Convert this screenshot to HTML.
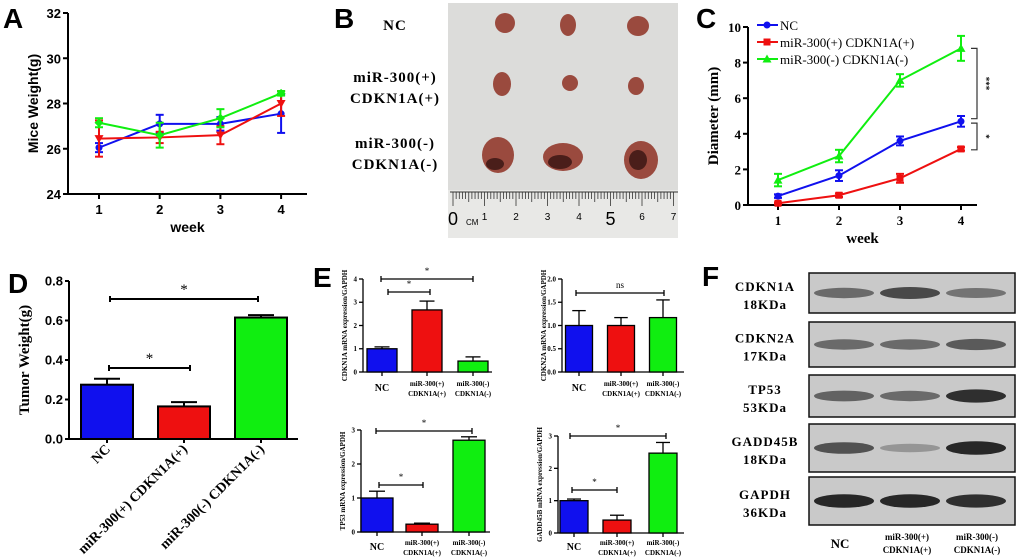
<!DOCTYPE html>
<html><head><meta charset="utf-8"><style>
body{margin:0;background:#fff}
svg{display:block}
text{font-family:"Liberation Serif",serif;font-weight:bold}
.sans{font-family:"Liberation Sans",sans-serif}
</style></head><body>
<svg id="fig" width="1020" height="559" viewBox="0 0 1020 559">
<g class="sans">
<text class="sans" x="3" y="28" font-size="28">A</text>
<text class="sans" x="334" y="28" font-size="28">B</text>
<text class="sans" x="696" y="28" font-size="28">C</text>
<text class="sans" x="8" y="293" font-size="28">D</text>
<text class="sans" x="313" y="287" font-size="28">E</text>
<text class="sans" x="702" y="286" font-size="28">F</text>
</g>
<!-- Panel B photo -->
<g>
<rect x="448" y="3" width="230" height="235" fill="#dcdcda"/>
<rect x="448" y="190" width="230" height="48" fill="#e8e8e6"/>
<g id="ruler"></g>
<text x="395" y="30" font-size="15" text-anchor="middle" letter-spacing="1">NC</text>
<text x="395" y="82" font-size="15" text-anchor="middle" letter-spacing="1">miR-300(+)</text>
<text x="395" y="103" font-size="15" text-anchor="middle" letter-spacing="1">CDKN1A(+)</text>
<text x="395" y="148" font-size="15" text-anchor="middle" letter-spacing="1">miR-300(-)</text>
<text x="395" y="169" font-size="15" text-anchor="middle" letter-spacing="1">CDKN1A(-)</text>
<g fill="#9a4a3e">
<ellipse cx="505" cy="23" rx="10" ry="10"/><ellipse cx="568" cy="25" rx="8" ry="11"/><ellipse cx="638" cy="26" rx="11" ry="10"/>
<ellipse cx="502" cy="84" rx="9" ry="12"/><ellipse cx="570" cy="83" rx="8" ry="8"/><ellipse cx="636" cy="86" rx="8" ry="9"/>
<ellipse cx="498" cy="155" rx="16" ry="18" /><ellipse cx="563" cy="157" rx="20" ry="14"/><ellipse cx="641" cy="160" rx="17" ry="19"/>
</g>
<g fill="#4a1e1a"><ellipse cx="560" cy="162" rx="12" ry="7"/><ellipse cx="638" cy="160" rx="9" ry="10"/><ellipse cx="495" cy="164" rx="9" ry="6"/></g>
</g>
<!-- Panel F blots -->
<g id="blots"></g>
<g id="charts"></g>
</svg>
<script>
// ===== Panel A data =====
const weekLabels = ["1","2","3","4"];
const weightNC = [26.05, 27.1, 27.1, 27.55];
const weightNCErr = [0.2, 0.4, 0.3, 0.85];
const weightPos = [26.45, 26.5, 26.6, 28.0];
const weightPosErr = [0.8, 0.25, 0.4, 0.55];
const weightNeg = [27.15, 26.6, 27.35, 28.45];
const weightNegErr = [0.2, 0.55, 0.4, 0.1];
const weightTicks = [24, 26, 28, 30, 32];
// ===== Panel C data =====
const diamNC = [0.5, 1.65, 3.6, 4.7];
const diamNCErr = [0.1, 0.3, 0.25, 0.3];
const diamPos = [0.1, 0.55, 1.5, 3.15];
const diamPosErr = [0.05, 0.1, 0.25, 0.1];
const diamNeg = [1.4, 2.75, 7.0, 8.8];
const diamNegErr = [0.35, 0.35, 0.35, 0.7];
const diamTicks = [0, 2, 4, 6, 8, 10];
const legendLabels = ["NC", "miR-300(+) CDKN1A(+)", "miR-300(-) CDKN1A(-)"];
// ===== Panel D data =====
const groupLabels = ["NC", "miR-300(+) CDKN1A(+)", "miR-300(-) CDKN1A(-)"];
const tumorWeight = [0.275, 0.165, 0.615];
const tumorWeightErr = [0.03, 0.022, 0.012];
const tumorTicks = ["0.0", "0.2", "0.4", "0.6", "0.8"];
// ===== Panel E data =====
const cdkn1aExpr = [1.0, 2.67, 0.47];
const cdkn1aErr = [0.08, 0.38, 0.18];
const cdkn2aExpr = [1.0, 1.0, 1.17];
const cdkn2aErr = [0.32, 0.17, 0.38];
const tp53Expr = [1.0, 0.23, 2.7];
const tp53Err = [0.2, 0.03, 0.1];
const gadd45bExpr = [1.0, 0.4, 2.47];
const gadd45bErr = [0.05, 0.15, 0.33];
const ticks4 = ["0", "1", "2", "3", "4"];
const ticks2 = ["0.0", "0.5", "1.0", "1.5", "2.0"];
const ticks3 = ["0", "1", "2", "3"];
// ===== Panel F data =====
const blotLabels = [["CDKN1A","18KDa"],["CDKN2A","17KDa"],["TP53","53KDa"],["GADD45B","18KDa"],["GAPDH","36KDa"]];
const blotIntensity = [[0.55,0.75,0.5],[0.55,0.55,0.65],[0.6,0.55,0.9],[0.7,0.3,0.95],[0.95,0.95,0.9]];

const NS="http://www.w3.org/2000/svg";
const root=document.getElementById('charts');
function el(tag,attrs,parent,txt){const e=document.createElementNS(NS,tag);for(const k in attrs)e.setAttribute(k,attrs[k]);if(txt!==undefined)e.textContent=txt;(parent||root).appendChild(e);return e;}
const COL=["#1010ee","#ee1010","#10ee10"];

function marker(g,type,x,y,c,s){
  if(type==='circle')el('circle',{cx:x,cy:y,r:s,fill:c},g);
  else if(type==='square')el('rect',{x:x-s,y:y-s,width:2*s,height:2*s,fill:c},g);
  else if(type==='tri')el('polygon',{points:`${x},${y-s-1} ${x-s-1},${y+s} ${x+s+1},${y+s}`,fill:c},g);
  else if(type==='itri')el('polygon',{points:`${x},${y+s+1} ${x-s-1},${y-s} ${x+s+1},${y-s}`,fill:c},g);
  else el('polygon',{points:`${x},${y-s-1} ${x-s-1},${y} ${x},${y+s+1} ${x+s+1},${y}`,fill:c},g);
}
function lineChart(o){
  const g=el('g',{});
  
  
  const ys=v=>o.yb-(v-o.ymin)/(o.ymax-o.ymin)*(o.yb-o.yt);
  const xs=i=>o.xf+i*o.dx;
  el('line',{x1:o.x0,y1:o.yt,x2:o.x0,y2:o.yb,stroke:'#000','stroke-width':2},g);
  el('line',{x1:o.x0,y1:o.yb,x2:o.xe,y2:o.yb,stroke:'#000','stroke-width':2},g);
  o.ticks.forEach(t=>{const y=ys(t);el('line',{x1:o.x0-5,y1:y,x2:o.x0,y2:y,stroke:'#000','stroke-width':2},g);
    const tt=el('text',{x:o.x0-7,y:y+5,'font-size':13,'text-anchor':'end',class:o.font},g,String(t));});
  weekLabels.forEach((l,i)=>{el('line',{x1:xs(i),y1:o.yb,x2:xs(i),y2:o.yb+5,stroke:'#000','stroke-width':2},g);
    const tt=el('text',{x:xs(i),y:o.yb+20,'font-size':13,'text-anchor':'middle',class:o.font},g,l);});
  const xt=el('text',{x:(o.x0+o.xe)/2,y:o.yb+38,'font-size':o.font==='sans'?14:15,'text-anchor':'middle',class:o.font},g,'week');
  
  const cy=(o.yt+o.yb)/2;
  const yt=el('text',{x:o.x0-30,y:cy,'font-size':o.font==='sans'?14:15,'text-anchor':'middle',transform:`rotate(-90 ${o.x0-30} ${cy})`,class:o.font},g,o.ytitle);
  
  o.series.forEach((s,si)=>{
    const sg=el('g',{},g);
    
    
    el('polyline',{points:s.v.map((v,i)=>xs(i)+','+ys(v)).join(' '),fill:'none',stroke:COL[si],'stroke-width':2},sg);
    s.v.forEach((v,i)=>{const x=xs(i),a=ys(v+s.e[i]),b=ys(v-s.e[i]);
      el('line',{x1:x,y1:a,x2:x,y2:b,stroke:COL[si],'stroke-width':2},sg);
      el('line',{x1:x-4,y1:a,x2:x+4,y2:a,stroke:COL[si],'stroke-width':2},sg);
      el('line',{x1:x-4,y1:b,x2:x+4,y2:b,stroke:COL[si],'stroke-width':2},sg);
      const m=el('g',{},sg);
      marker(m,s.m,x,ys(v),COL[si],3.5);});
  });
  return {g,ys,xs};
}
lineChart({name:'mice-weight-chart',x0:68,xe:307,yt:13,yb:194,ymin:24,ymax:32,xf:99,dx:60.7,ticks:weightTicks,font:'sans',ytitle:'Mice Weight(g)',
  series:[{key:'nc',v:weightNC,e:weightNCErr,m:'circle'},{key:'pos',v:weightPos,e:weightPosErr,m:'itri'},{key:'neg',v:weightNeg,e:weightNegErr,m:'diamond'}]});
const C=lineChart({name:'diameter-chart',x0:748,xe:977,yt:27,yb:205,ymin:0,ymax:10,xf:778,dx:61,ticks:diamTicks,font:'',ytitle:'Diameter (mm)',
  series:[{key:'nc',v:diamNC,e:diamNCErr,m:'circle'},{key:'pos',v:diamPos,e:diamPosErr,m:'square'},{key:'neg',v:diamNeg,e:diamNegErr,m:'tri'}]});
// legend C
['circle','square','tri'].forEach((m,i)=>{const y=25+i*17;const lg=el('g',{});
  
  el('line',{x1:757,y1:y,x2:778,y2:y,stroke:COL[i],'stroke-width':2},lg);marker(lg,m,767,y,COL[i],3.5);
  el('text',{x:780,y:y+5,'font-size':13,'font-weight':'normal',style:'font-weight:normal'},lg,legendLabels[i]);});
// significance brackets C
function vbr(x,y1,y2,lab){const g=el('g',{});
  el('polyline',{points:`${x-6},${y1} ${x},${y1} ${x},${y2} ${x-6},${y2}`,fill:'none',stroke:'#333','stroke-width':1.2},g);
  el('text',{x:x+6,y:(y1+y2)/2,'font-size':9,'text-anchor':'middle',transform:`rotate(90 ${x+6} ${(y1+y2)/2})`},g,lab);}
vbr(977,C.ys(8.8),C.ys(4.85),'***');vbr(977,C.ys(4.6),C.ys(3.1),'*');

function barChart(o){
  const g=el('g',{});
  const ys=v=>o.yb-v/o.ymax*(o.yb-o.yt);
  const fs=o.fs;
  el('line',{x1:o.x0,y1:o.yt,x2:o.x0,y2:o.yb,stroke:'#000','stroke-width':o.sw},g);
  el('line',{x1:o.x0,y1:o.yb,x2:o.xe,y2:o.yb,stroke:'#000','stroke-width':o.sw},g);
  o.ticks.forEach(t=>{const y=ys(parseFloat(t));el('line',{x1:o.x0-4,y1:y,x2:o.x0,y2:y,stroke:'#000','stroke-width':o.sw},g);
    const tt=el('text',{x:o.x0-6,y:y+fs*0.35,'font-size':fs,'text-anchor':'end',class:o.tfont||''},g,t);});
  o.vals.forEach((v,i)=>{const cx=o.cx[i],w=o.bw;
    const b=el('rect',{x:cx-w/2,y:ys(v),width:w,height:o.yb-ys(v),fill:COL[i],stroke:'#000','stroke-width':o.sw},g);
    
    const t=ys(v+o.err[i]);el('line',{x1:cx,y1:ys(v),x2:cx,y2:t,stroke:'#000','stroke-width':o.sw},g);
    el('line',{x1:cx-w/4,y1:t,x2:cx+w/4,y2:t,stroke:'#000','stroke-width':o.sw},g);
    el('line',{x1:cx,y1:o.yb,x2:cx,y2:o.yb+4,stroke:'#000','stroke-width':o.sw},g);});
  const cy=(o.yt+o.yb)/2;
  const yt=el('text',{x:o.x0-o.tOff,y:cy,'font-size':o.tfs,'text-anchor':'middle',transform:`rotate(-90 ${o.x0-o.tOff} ${cy})`},g,o.ytitle);
  
  (o.brackets||[]).forEach(br=>{const y=br.y,bg=el('g',{},g);
    el('line',{x1:br.a,y1:y,x2:br.b,y2:y,stroke:'#000','stroke-width':o.sw},bg);
    el('line',{x1:br.a,y1:y-3,x2:br.a,y2:y+3,stroke:'#000','stroke-width':o.sw},bg);
    el('line',{x1:br.b,y1:y-3,x2:br.b,y2:y+3,stroke:'#000','stroke-width':o.sw},bg);
    el('text',{x:(br.a+br.b)/2,y:y-5,'font-size':o.fs+2,'text-anchor':'middle',style:'font-weight:normal'},bg,br.t);});
  if(o.xlabels){o.xlabels(g,ys);}
  return ys;
}
// Panel D
barChart({name:'tumor-weight-chart',x0:69,xe:298,yt:281,yb:439,ymax:0.8,cx:[107,184,261],bw:52,vals:tumorWeight,err:tumorWeightErr,ticks:tumorTicks,fs:13,tfont:'sans',sw:2,tfs:15,tOff:40,ytitle:'Tumor Weight(g)',
  brackets:[{a:110,b:258,y:299,t:'*'},{a:109,b:190,y:368,t:'*'}],
  xlabels:(g)=>{[107,184,261].forEach((cx,i)=>{const t=el('text',{x:cx+4,y:450,'font-size':14,'text-anchor':'end',transform:`rotate(-45 ${cx+4} 450)`},g,groupLabels[i]);
    });}});
// Panel E
function eLabels(cx,y){return (g)=>{const t=el('text',{x:cx[0],y:y+5,'font-size':10,'text-anchor':'middle'},g,'NC');
  [['miR-300(+)','CDKN1A(+)'],['miR-300(-)','CDKN1A(-)']].forEach((l,i)=>{const tg=el('g',{},g);
  el('text',{x:cx[i+1],y:y,'font-size':7,'text-anchor':'middle'},tg,l[0]);el('text',{x:cx[i+1],y:y+10,'font-size':7,'text-anchor':'middle'},tg,l[1]);});};}
const eCom={fs:7,sw:1.3,tfs:7,tOff:16};
barChart(Object.assign({name:'cdkn1a-expression-chart',x0:363,xe:492,yt:279,yb:372,ymax:4,cx:[382,427,473],bw:30,vals:cdkn1aExpr,err:cdkn1aErr,ticks:ticks4,ytitle:'CDKN1A mRNA expression/GAPDH',
  brackets:[{a:381,b:473,y:279,t:'*'},{a:388,b:430,y:292,t:'*'}],xlabels:eLabels([382,427,473],386)},eCom));
barChart(Object.assign({name:'cdkn2a-expression-chart',x0:562,xe:684,yt:279,yb:372,ymax:2,cx:[579,621,663],bw:27,vals:cdkn2aExpr,err:cdkn2aErr,ticks:ticks2,ytitle:'CDKN2A mRNA expression/GAPDH',
  brackets:[{a:576,b:664,y:293,t:'ns'}],xlabels:eLabels([579,621,663],386)},eCom));
barChart(Object.assign({name:'tp53-expression-chart',x0:361,xe:490,yt:430,yb:532,ymax:3,cx:[377,422,469],bw:32,vals:tp53Expr,err:tp53Err,ticks:ticks3,ytitle:'TP53 mRNA expression/GAPDH',
  brackets:[{a:376,b:472,y:431,t:'*'},{a:379,b:423,y:485,t:'*'}],xlabels:eLabels([377,422,469],545)},eCom));
barChart(Object.assign({name:'gadd45b-expression-chart',x0:558,xe:684,yt:436,yb:533,ymax:3,cx:[574,617,663],bw:28,vals:gadd45bExpr,err:gadd45bErr,ticks:ticks3,ytitle:'GADD45B mRNA expression/GAPDH',
  brackets:[{a:570,b:666,y:436,t:'*'},{a:572,b:617,y:490,t:'*'}],xlabels:eLabels([574,617,663],545)},eCom));

// Ruler
const R=document.getElementById('ruler');
for(let i=0;i<=70;i++){const x=453+i*3.15;const h=i%10===0?14:(i%5===0?10:7);el('line',{x1:x,y1:192,x2:x,y2:192+h,stroke:'#333','stroke-width':0.8},R);}
el('line',{x1:450,y1:192,x2:678,y2:192,stroke:'#333','stroke-width':1},R);
for(let i=0;i<=7;i++){el('text',{x:453+i*31.5,y:i===0||i===5?225:220,'font-size':i===0||i===5?18:10,'text-anchor':'middle',class:'sans',style:'font-weight:normal'},R,String(i));}
el('text',{x:466,y:225,'font-size':8,class:'sans',style:'font-weight:normal'},R,'CM');

// Blots
const B=document.getElementById('blots');
const boxes=[[273,313],[322,367],[375,417],[424,472],[477,525]];
const lanes=[844,910,976];
boxes.forEach((bx,i)=>{const g=el('g',{},B);
  el('rect',{x:809,y:bx[0],width:206,height:bx[1]-bx[0],fill:'#c9c9c9',stroke:'#111','stroke-width':1.5},g);
  const by=bx[0]+(bx[1]-bx[0])*0.5;
  blotIntensity[i].forEach((v,j)=>{const c=Math.round(200-v*170);el('ellipse',{cx:lanes[j],cy:by,rx:30,ry:3+v*4,fill:`rgb(${c},${c},${c})`},g);});
  el('text',{x:765,y:bx[0]+(bx[1]-bx[0])/2-2,'font-size':13,'text-anchor':'middle','letter-spacing':1},g,blotLabels[i][0]);
  el('text',{x:765,y:bx[0]+(bx[1]-bx[0])/2+16,'font-size':13,'text-anchor':'middle','letter-spacing':1},g,blotLabels[i][1]);});
const fl=el('g',{},B);
el('text',{x:840,y:548,'font-size':13,'text-anchor':'middle'},fl,'NC');
el('text',{x:907,y:540,'font-size':9,'text-anchor':'middle'},fl,'miR-300(+)');
el('text',{x:907,y:553,'font-size':9,'text-anchor':'middle'},fl,'CDKN1A(+)');
el('text',{x:977,y:540,'font-size':9,'text-anchor':'middle'},fl,'miR-300(-)');
el('text',{x:977,y:553,'font-size':9,'text-anchor':'middle'},fl,'CDKN1A(-)');
</script>
</body></html>
